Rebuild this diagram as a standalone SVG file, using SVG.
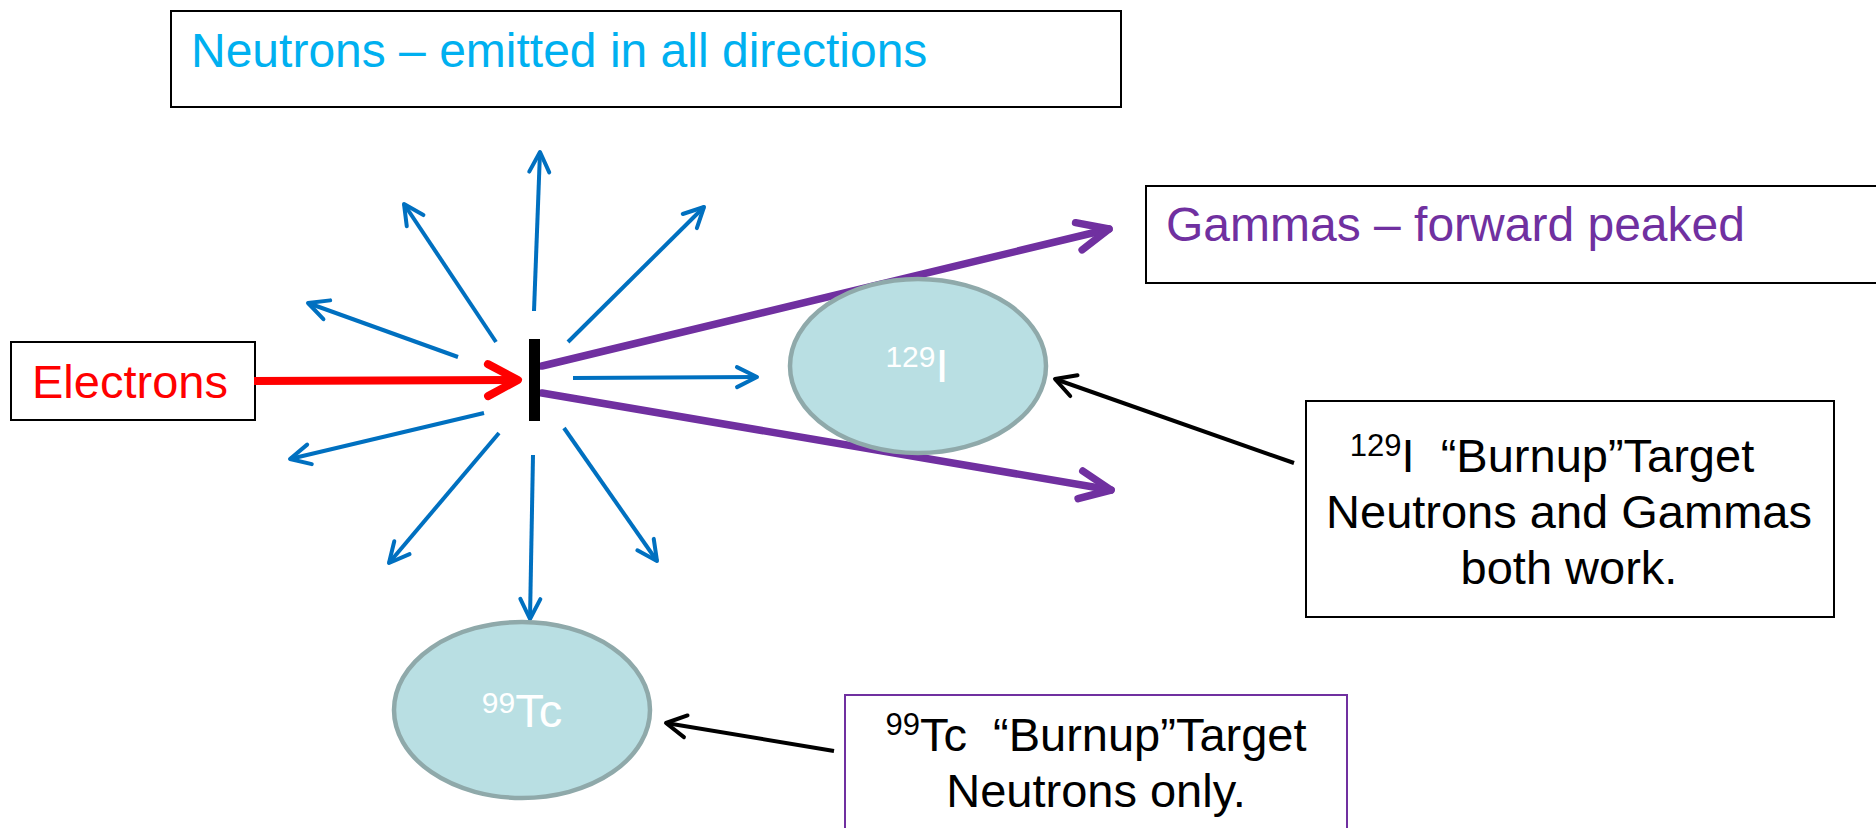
<svg xmlns="http://www.w3.org/2000/svg" width="1876" height="828" viewBox="0 0 1876 828">
<style>
text{font-family:"Liberation Sans",Arial,sans-serif;}
.box{fill:#fff;stroke:#000;stroke-width:2;}
.ell{fill:#B9DFE3;stroke:#8FA9AA;stroke-width:4.5;}
.blue{stroke:#0070C0;stroke-width:4;fill:none;marker-end:url(#mBlue);}
.purple{stroke:#7030A0;stroke-width:7.5;fill:none;stroke-linecap:round;marker-end:url(#mPurple);}
.blk{stroke:#000;stroke-width:4;fill:none;marker-end:url(#mBlack);}
.lbl{font-size:47px;fill:#000;text-anchor:middle;}
.wt{fill:#fff;text-anchor:middle;}
</style>
<defs>
<marker id="mBlue" markerUnits="userSpaceOnUse" markerWidth="1" markerHeight="1" refX="0" refY="0" orient="auto" style="overflow:visible">
<path d="M-20,-10 L0,0 L-20,10" fill="none" stroke="#0070C0" stroke-width="4" stroke-linecap="round" stroke-linejoin="round"/>
</marker>
<marker id="mPurple" markerUnits="userSpaceOnUse" markerWidth="1" markerHeight="1" refX="0" refY="0" orient="auto" style="overflow:visible">
<path d="M-31,-14 L0,0 L-31,14" fill="none" stroke="#7030A0" stroke-width="7.5" stroke-linecap="round" stroke-linejoin="round"/>
</marker>
<marker id="mRed" markerUnits="userSpaceOnUse" markerWidth="1" markerHeight="1" refX="0" refY="0" orient="auto" style="overflow:visible">
<path d="M-30,-16 L0,0 L-30,16" fill="none" stroke="#FF0000" stroke-width="8" stroke-linecap="round" stroke-linejoin="round"/>
</marker>
<marker id="mBlack" markerUnits="userSpaceOnUse" markerWidth="1" markerHeight="1" refX="0" refY="0" orient="auto" style="overflow:visible">
<path d="M-20,-11 L0,0 L-20,11" fill="none" stroke="#000" stroke-width="4" stroke-linecap="round" stroke-linejoin="round"/>
</marker>
</defs>
<rect width="1876" height="828" fill="#fff"/>

<g id="neutrons-box">
<rect class="box" x="171" y="11" width="950" height="96"/>
<text x="191" y="67" font-size="48" fill="#00B0F0">Neutrons – emitted in all directions</text>
</g>

<g id="gammas-box">
<rect class="box" x="1146" y="186" width="740" height="97"/>
<text x="1166" y="241" font-size="48" fill="#7030A0">Gammas – forward peaked</text>
</g>

<g id="electrons-box">
<rect class="box" x="11" y="342" width="244" height="78"/>
<text x="32" y="398" font-size="47" fill="#FF0000">Electrons</text>
</g>

<g id="connectors">
<line x1="254" y1="381" x2="518" y2="380" stroke="#FF0000" stroke-width="8" marker-end="url(#mRed)"/>
<line class="purple" x1="542" y1="366" x2="1109" y2="229"/>
<line class="purple" x1="542" y1="393" x2="1111" y2="490"/>
<line class="blue" x1="534" y1="311" x2="540" y2="152"/>
<line class="blue" x1="496" y1="342" x2="404" y2="204"/>
<line class="blue" x1="568" y1="342" x2="704" y2="207"/>
<line class="blue" x1="458" y1="357" x2="308" y2="303"/>
<line class="blue" x1="573" y1="378" x2="757" y2="377"/>
<line class="blue" x1="484" y1="413" x2="290" y2="459"/>
<line class="blue" x1="499" y1="433" x2="389" y2="563"/>
<line class="blue" x1="533" y1="455" x2="530" y2="619"/>
<line class="blue" x1="564" y1="428" x2="657" y2="561"/>
<line class="blk" x1="1294" y1="463" x2="1055" y2="379"/>
<line class="blk" x1="834" y1="751" x2="666" y2="723"/>
</g>

<g id="target">
<rect x="529" y="339" width="11" height="82" fill="#000"/>
</g>

<g id="iodine-target">
<ellipse class="ell" cx="918" cy="366" rx="128" ry="87"/>
<text class="wt" x="917" y="382"><tspan font-size="30" dy="-15">129</tspan><tspan font-size="47" dy="15">I</tspan></text>
</g>

<g id="tc-target">
<ellipse class="ell" cx="522" cy="710" rx="128" ry="88"/>
<text class="wt" x="522" y="727"><tspan font-size="30" dy="-14">99</tspan><tspan font-size="47" dy="14">Tc</tspan></text>
</g>

<g id="iodine-note">
<rect class="box" x="1306" y="401" width="528" height="216"/>
<text class="lbl" x="1552" y="472" xml:space="preserve"><tspan font-size="31" dy="-16">129</tspan><tspan dy="16">I  “Burnup”Target</tspan></text>
<text class="lbl" x="1569" y="528">Neutrons and Gammas</text>
<text class="lbl" x="1569" y="584">both work.</text>
</g>

<g id="tc-note">
<rect x="845" y="695" width="502" height="140" fill="#fff" stroke="#7030A0" stroke-width="2"/>
<text class="lbl" x="1096" y="751" xml:space="preserve"><tspan font-size="31" dy="-16">99</tspan><tspan dy="16">Tc  “Burnup”Target</tspan></text>
<text class="lbl" x="1096" y="807">Neutrons only.</text>
</g>
</svg>
